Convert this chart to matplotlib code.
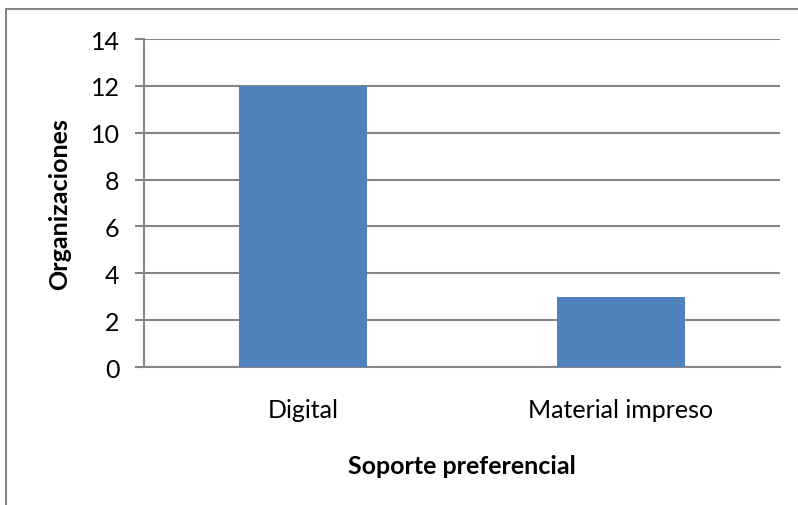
import matplotlib.pyplot as plt
from matplotlib.patches import Rectangle

# datos del gráfico
categorias = ["Digital", "Material impreso"]
organizaciones = [12, 3]
marcas_y = [0, 2, 4, 6, 8, 10, 12, 14]

plt.rcParams['font.family'] = ['Lato', 'DejaVu Sans']

fig = plt.figure(figsize=(7.98, 5.06), dpi=100)
ax = fig.add_axes([0.1805, 0.2727, 0.797, 0.6482])

gris = '#868686'
ax.bar(range(len(categorias)), organizaciones, width=0.4, color='#4F81BD', zorder=3)

ax.set_xlim(-0.5, len(categorias) - 0.5)
ax.set_ylim(0, 14)
ax.set_yticks(marcas_y)
ax.set_xticks(range(len(categorias)))
ax.set_xticklabels(categorias)
ax.yaxis.grid(True, color=gris, linewidth=1.5, zorder=0)

for lado in ['top', 'right']:
    ax.spines[lado].set_visible(False)
for lado in ['left', 'bottom']:
    ax.spines[lado].set_color(gris)
    ax.spines[lado].set_linewidth(1.5)

ax.tick_params(axis='y', length=6.5, width=1.5, color=gris, labelsize=18, pad=11)
ax.tick_params(axis='x', length=0, labelsize=18, pad=22)

ax.set_ylabel("Organizaciones", fontsize=18, fontweight='bold', labelpad=14)
ax.set_xlabel("Soporte preferencial", fontsize=18, fontweight='bold', labelpad=24)

# marco exterior del gráfico
fig.patches.append(Rectangle((6 / 798, -0.1), 1.2, 1.1 - 10 / 506, transform=fig.transFigure,
                             fill=False, edgecolor=gris, linewidth=1.5))

fig.savefig("out.png", dpi=100)
